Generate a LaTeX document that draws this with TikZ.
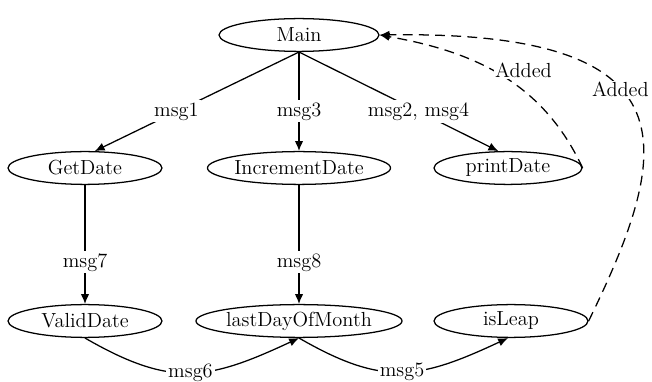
\documentclass[tikz,border=0pt]{standalone}
\usepackage{tikz}
\usetikzlibrary{arrows.meta,shapes.geometric}

\begin{document}
\begin{tikzpicture}[
  font=\fontsize{14.5}{16}\selectfont,
  >=Latex,
  fn/.style={
    ellipse, draw=black, line width=0.9pt,
    inner sep=0pt, minimum width=3.85cm, minimum height=0.82cm
  },
  call/.style={-{Latex[length=7pt,width=6pt]}, line width=0.9pt},
  calld/.style={call, dash pattern=on 7pt off 4.5pt},
  msg/.style={fill=white, inner sep=1.5pt}
]
\useasboundingbox (0,0) rectangle (16.3,9.55);

% Hàng 1 --- gốc
\node[fn, minimum width=4.0cm] (main) at (7.475,8.675) {Main};

% Hàng 2
\node[fn] (getdate) at (2.125,5.35) {GetDate};
\node[fn] (incdate) at (7.475,5.35) {IncrementDate};
\node[fn, minimum width=3.7cm] (printdate) at (12.7,5.35) {printDate};

% Hàng 3
\node[fn] (validdate) at (2.125,1.525) {ValidDate};
\node[fn] (lastday) at (7.475,1.525) {lastDayOfMonth};
\node[fn] (isleap) at (12.775,1.525) {isLeap};

% Lời gọi
\draw[call] (main.south) -- node[msg, pos=0.6]{msg1} (getdate.60);
\draw[call] (main.south) -- node[msg, pos=0.6]{msg3} (incdate);
\draw[call] (main.south) -- node[msg, pos=0.6]{msg2, msg4} (printdate.120);
\draw[call] (getdate) -- node[msg, pos=0.65]{msg7} (validdate);
\draw[call] (incdate) -- node[msg, pos=0.65]{msg8} (lastday);
\draw[call] (validdate.south) to[out=-30, in=-155, looseness=1.2] node[msg]{msg6} (lastday.south);
\draw[call] (lastday.south) to[out=-30, in=-155, looseness=1.2] node[msg]{msg5} (isleap.260);

% Thêm vào
\draw[calld] (printdate.east) to[out=115, in=-10]
  node[pos=0.5, anchor=west, xshift=-0.2cm, yshift=0.12cm, fill=white, inner sep=1pt]{Added} (main.east);
\draw[calld] (isleap.east) .. controls +(2.075,4.25) and +(8.0,0.12) ..
  node[pos=0.58, fill=white, inner sep=1pt]{Added} (main.east);
\end{tikzpicture}
\end{document}
